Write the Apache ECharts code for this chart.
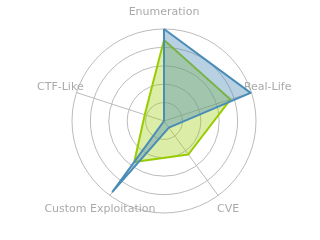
<!DOCTYPE html>
<html><head><meta charset="utf-8">
<script src="https://cdn.jsdelivr.net/npm/echarts@6/dist/echarts.min.js"></script>
<style>html,body{margin:0;padding:0;background:#fff}#c{width:320px;height:240px}</style>
</head><body><div id="c"></div>
<script>
// ECharts lays radar indicators out counter-clockwise from the top
var indicators = ['Enumeration', 'CTF-Like', 'Custom Exploitation', 'CVE', 'Real-Life'];
var seriesA = [1.0, 0.0, 0.95, 0.09, 0.99];
var seriesB = [0.88, 0.22, 0.55, 0.45, 0.76];
var chart = echarts.init(document.getElementById('c'), null, {renderer: 'canvas'});
chart.setOption({
  animation: false,
  radar: {
    center: [164, 121],
    radius: 92,
    shape: 'circle',
    splitNumber: 5,
    startAngle: 90,
    indicator: indicators.map(function (n) { return {name: n, max: 1, min: 0}; }),
    axisName: {color: '#aaaaaa', fontSize: 11, fontFamily: 'DejaVu Sans', align: 'center', verticalAlign: 'middle'},
    nameGap: 17,
    splitLine: {lineStyle: {color: '#bbbbbb', width: 1}},
    splitArea: {show: false},
    axisLine: {lineStyle: {color: '#bbbbbb', width: 1}}
  },
  series: [{
    type: 'radar',
    symbol: 'none',
    data: [
      {value: seriesB, lineStyle: {color: '#99cc00', width: 2}, areaStyle: {color: '#99cc00', opacity: 0.35}, itemStyle: {color: '#99cc00'}},
      {value: seriesA, lineStyle: {color: '#4a8db7', width: 2}, areaStyle: {color: '#4a8db7', opacity: 0.4}, itemStyle: {color: '#4a8db7'}}
    ]
  }]
});
</script></body></html>
